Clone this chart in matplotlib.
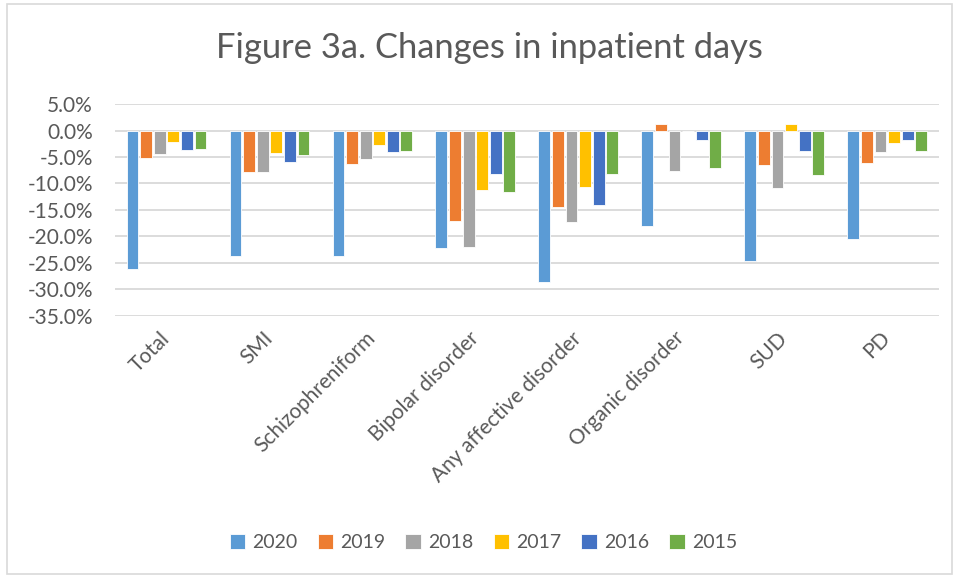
import matplotlib
matplotlib.use("Agg")
import matplotlib.pyplot as plt
import numpy as np
from matplotlib.patches import Rectangle
from matplotlib.ticker import FuncFormatter, MultipleLocator

categories = ["Total", "SMI", "Schizophreniform", "Bipolar disorder",
              "Any affective disorder", "Organic disorder", "SUD", "PD"]
years = ["2020", "2019", "2018", "2017", "2016", "2015"]
v2020 = [-26.1, -23.7, -23.7, -22.3, -28.7, -18.1, -24.6, -20.6]
v2019 = [-5.2, -7.8, -6.3, -17.1, -14.5, 1.2, -6.5, -6.2]
v2018 = [-4.5, -7.8, -5.4, -22.0, -17.2, -7.6, -10.9, -4.1]
v2017 = [-2.1, -4.3, -2.7, -11.2, -10.7, 0.0, 1.2, -2.4]
v2016 = [-3.7, -6.0, -4.1, -8.2, -14.0, -1.7, -3.9, -1.8]
v2015 = [-3.5, -4.6, -3.9, -11.6, -8.3, -7.0, -8.4, -3.9]
series = [v2020, v2019, v2018, v2017, v2016, v2015]
colors = ["#5B9BD5", "#ED7D31", "#A5A5A5", "#FFC000", "#4472C4", "#70AD47"]

plt.rcParams['font.family'] = ['Lato', 'DejaVu Sans']
fig = plt.figure(figsize=(9.55, 5.75), dpi=100)
ax = fig.add_axes([0.1204, 0.451, 0.8626, 0.368])

x = np.arange(len(categories))
pitch = 0.132
width = 0.115
for i, (vals, c, yr) in enumerate(zip(series, colors, years)):
    off = (i - 2.5) * pitch
    ax.bar(x + off, vals, width=width, color=c, edgecolor="white", linewidth=0.6,
           label=yr, zorder=3)

ax.set_xlim(-0.5, len(categories) - 0.5)
ax.set_ylim(-35, 5)
ax.yaxis.set_major_locator(MultipleLocator(5))
ax.yaxis.set_major_formatter(FuncFormatter(lambda v, p: f"{v:.1f}%"))
ax.grid(axis="y", color="#D9D9D9", linewidth=1.3, zorder=0)
for s in ax.spines.values():
    s.set_visible(False)
ax.tick_params(axis="both", length=0, colors="#595959", labelsize=15)
ax.tick_params(axis="y", pad=16)
ax.set_xticks(x)
ax.set_xticklabels(categories, rotation=45, ha="right", va="center",
                   rotation_mode="anchor", color="#595959", fontsize=15)
ax.tick_params(axis="x", pad=14)

fig.text(0.512, 0.917, "Figure 3a. Changes in inpatient days", ha="center", va="center",
         fontsize=24.8, color="#595959")

leg = fig.legend(loc="center", bbox_to_anchor=(0.506, 0.056), ncol=6, frameon=False,
                 fontsize=14, handlelength=0.8, handleheight=0.8,
                 handletextpad=0.35, columnspacing=1.05)
for t in leg.get_texts():
    t.set_color("#595959")

fig.patches.append(Rectangle((0.007, 0.002), 0.99, 0.991, transform=fig.transFigure,
                             fill=False, edgecolor="#D9D9D9", linewidth=1.2))

fig.savefig("out.png", dpi=100)
